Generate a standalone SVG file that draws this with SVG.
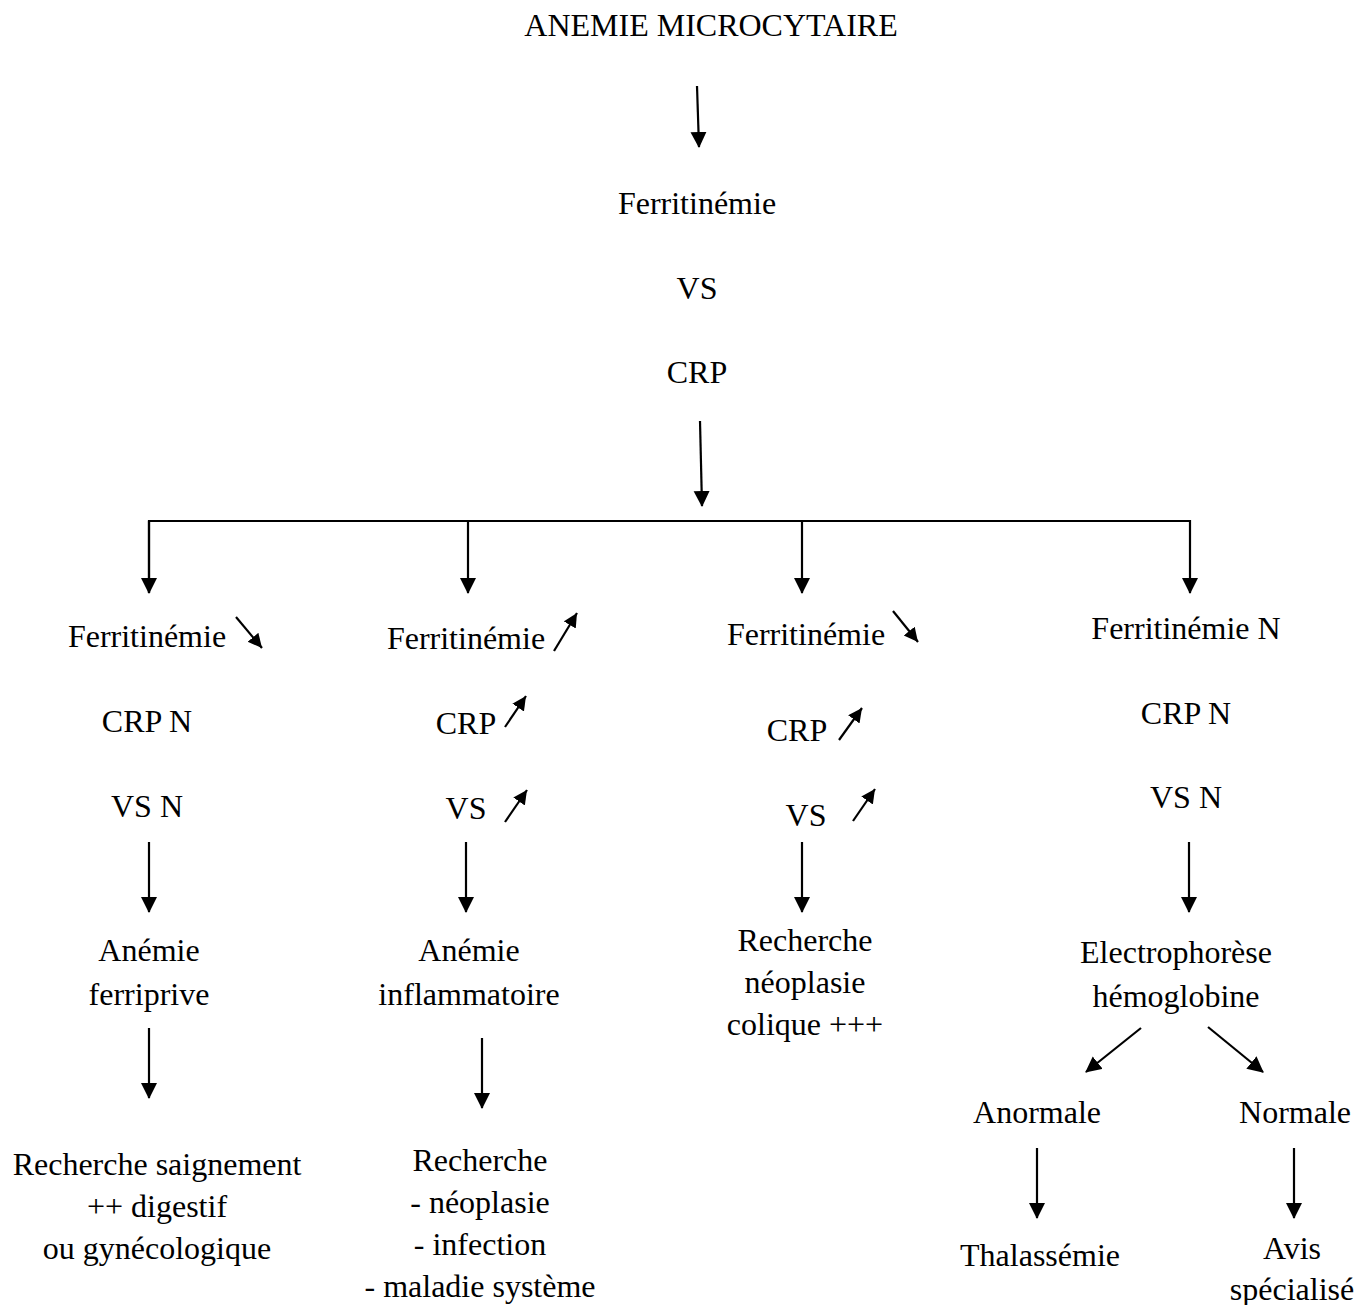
<svg xmlns="http://www.w3.org/2000/svg" width="1357" height="1305" viewBox="0 0 1357 1305">
<style>
text{font-family:"Liberation Serif","Times New Roman",serif;font-size:32px;fill:#000;text-anchor:middle}
.c{stroke:#000;stroke-width:2.2;fill:none}
</style>
<defs>
<marker id="ah" markerUnits="userSpaceOnUse" markerWidth="18" markerHeight="18" refX="15" refY="8" orient="auto"><path d="M0,0 L16,8 L0,16 z" fill="#000"/></marker>
<marker id="as" markerUnits="userSpaceOnUse" markerWidth="16" markerHeight="16" refX="14" refY="7" orient="auto"><path d="M0,0 L14,7 L0,14 z" fill="#000"/></marker>
</defs>
<rect width="1357" height="1305" fill="#fff"/>
<g id="n-title"><text x="711" y="36">ANEMIE MICROCYTAIRE</text></g>
<g id="n-tests"><text x="697" y="214">Ferritinémie</text><text x="697" y="299">VS</text><text x="697" y="383">CRP</text></g>
<g id="n-b1"><text x="147" y="647">Ferritinémie</text><text x="147" y="732">CRP N</text><text x="147" y="817">VS N</text></g>
<g id="n-b1r"><text x="149" y="961">Anémie</text><text x="149" y="1005">ferriprive</text></g>
<g id="n-b1s"><text x="157" y="1175">Recherche saignement</text><text x="157" y="1217">++ digestif</text><text x="157" y="1259">ou gynécologique</text></g>
<g id="n-b2"><text x="466" y="649">Ferritinémie</text><text x="466" y="734">CRP</text><text x="466" y="819">VS</text></g>
<g id="n-b2r"><text x="469" y="961">Anémie</text><text x="469" y="1005">inflammatoire</text></g>
<g id="n-b2s"><text x="480" y="1171">Recherche</text><text x="480" y="1213">- néoplasie</text><text x="480" y="1255">- infection</text><text x="480" y="1297">- maladie système</text></g>
<g id="n-b3"><text x="806" y="645">Ferritinémie</text><text x="797" y="741">CRP</text><text x="806" y="826">VS</text></g>
<g id="n-b3r"><text x="805" y="951">Recherche</text><text x="805" y="993">néoplasie</text><text x="805" y="1035">colique +++</text></g>
<g id="n-b4"><text x="1186" y="639">Ferritinémie N</text><text x="1186" y="724">CRP N</text><text x="1186" y="808">VS N</text></g>
<g id="n-b4r"><text x="1176" y="963">Electrophorèse</text><text x="1176" y="1007">hémoglobine</text></g>
<g id="n-anorm"><text x="1037" y="1123">Anormale</text></g>
<g id="n-norm"><text x="1295" y="1123">Normale</text></g>
<g id="n-thal"><text x="1040" y="1266">Thalassémie</text></g>
<g id="n-avis"><text x="1292" y="1259">Avis</text><text x="1292" y="1300">spécialisé</text></g>
<g id="connectors" class="c">
<line x1="697" y1="86" x2="699" y2="147" marker-end="url(#ah)"/>
<line x1="700" y1="421" x2="702" y2="506" marker-end="url(#ah)"/>
<polyline points="149,593 149,521 1190,521 1190,593" marker-end="url(#ah)"/>
<line x1="149" y1="521" x2="149" y2="593" marker-end="url(#ah)"/>
<line x1="468" y1="521" x2="468" y2="593" marker-end="url(#ah)"/>
<line x1="802" y1="521" x2="802" y2="593" marker-end="url(#ah)"/>
<line x1="236" y1="617" x2="262" y2="648" marker-end="url(#as)"/>
<line x1="554" y1="651" x2="577" y2="613" marker-end="url(#as)"/>
<line x1="505" y1="727" x2="526" y2="696" marker-end="url(#as)"/>
<line x1="505" y1="822" x2="527" y2="790" marker-end="url(#as)"/>
<line x1="893" y1="611" x2="918" y2="642" marker-end="url(#as)"/>
<line x1="839" y1="740" x2="862" y2="708" marker-end="url(#as)"/>
<line x1="853" y1="821" x2="875" y2="789" marker-end="url(#as)"/>
<line x1="149" y1="842" x2="149" y2="912" marker-end="url(#ah)"/>
<line x1="466" y1="842" x2="466" y2="912" marker-end="url(#ah)"/>
<line x1="802" y1="842" x2="802" y2="912" marker-end="url(#ah)"/>
<line x1="1189" y1="842" x2="1189" y2="912" marker-end="url(#ah)"/>
<line x1="149" y1="1028" x2="149" y2="1098" marker-end="url(#ah)"/>
<line x1="482" y1="1038" x2="482" y2="1108" marker-end="url(#ah)"/>
<line x1="1141" y1="1028" x2="1086" y2="1072" marker-end="url(#ah)"/>
<line x1="1208" y1="1027" x2="1263" y2="1072" marker-end="url(#ah)"/>
<line x1="1037" y1="1148" x2="1037" y2="1218" marker-end="url(#ah)"/>
<line x1="1294" y1="1148" x2="1294" y2="1218" marker-end="url(#ah)"/>
</g>
</svg>
